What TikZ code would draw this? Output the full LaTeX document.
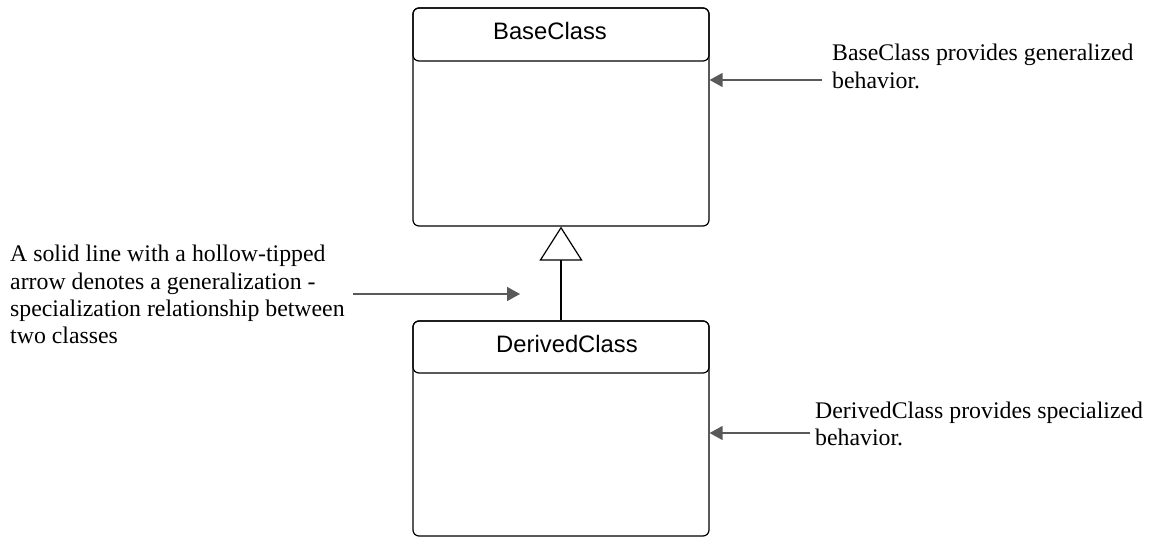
\documentclass[tikz,border=0pt]{standalone}
\usepackage{fontspec}
\setmainfont{Liberation Serif}
\newfontfamily\classfont{Liberation Sans}
\usetikzlibrary{arrows.meta}
\definecolor{ptr}{HTML}{595959}
\begin{document}
\begin{tikzpicture}[x=1pt,y=-1pt,
 classbody/.style={draw=black, line width=1.2pt, rounded corners=6pt, minimum width=296pt, inner sep=0pt, fill=white},
 classhead/.style={draw=black, line width=1.2pt, rounded corners=6pt, minimum width=296pt, inner sep=0pt, text height=17pt, text depth=6.5pt, font=\classfont\fontsize{23.8}{28}\selectfont},
 note/.style={font=\fontsize{23.8}{27.3}\selectfont, inner sep=0pt, anchor=base west},
 pointer/.style={draw=ptr, line width=1.5pt, -{Triangle[length=13pt,width=14pt,fill=ptr]}},
 general/.style={draw=black, line width=1.2pt, -{Triangle[open,length=34pt,width=43pt,fill=white]}}
]
\useasboundingbox (0,0) rectangle (1151,537);
% BaseClass
\node[classbody, minimum height=218pt] (bbody) at (561,117) {};
\node[classhead, minimum height=53pt] (bhead) at (561,34.5) {\hspace*{-22pt}BaseClass};
% DerivedClass
\node[classbody, minimum height=215pt] (dbody) at (561,428.5) {};
\node[classhead, minimum height=52pt] (dhead) at (561,347) {\hspace*{12pt}DerivedClass};
% generalization
\draw[general] (dhead.north) -- (bbody.south);
% notes
\node[note] (nbase) at (832,61) {\begin{tabular}[t]{@{}l@{}}BaseClass provides generalized\\behavior.\end{tabular}};
\node[note] (nder) at (815,418) {\begin{tabular}[t]{@{}l@{}}DerivedClass provides specialized\\behavior.\end{tabular}};
\node[note] (ngen) at (10,262) {\begin{tabular}[t]{@{}l@{}}A solid line with a hollow-tipped\\arrow denotes a generalization -\\specialization relationship between\\two classes\end{tabular}};
% pointers
\coordinate (p1) at (822,80);
\coordinate (p2) at (810,433);
\coordinate (p3s) at (353,294);
\coordinate (p3e) at (520,294);
\draw[pointer] (p1) -- (bbody.east |- p1);
\draw[pointer] (p2) -- (dbody.east |- p2);
\draw[pointer] (p3s) -- (p3e);
\end{tikzpicture}
\end{document}
